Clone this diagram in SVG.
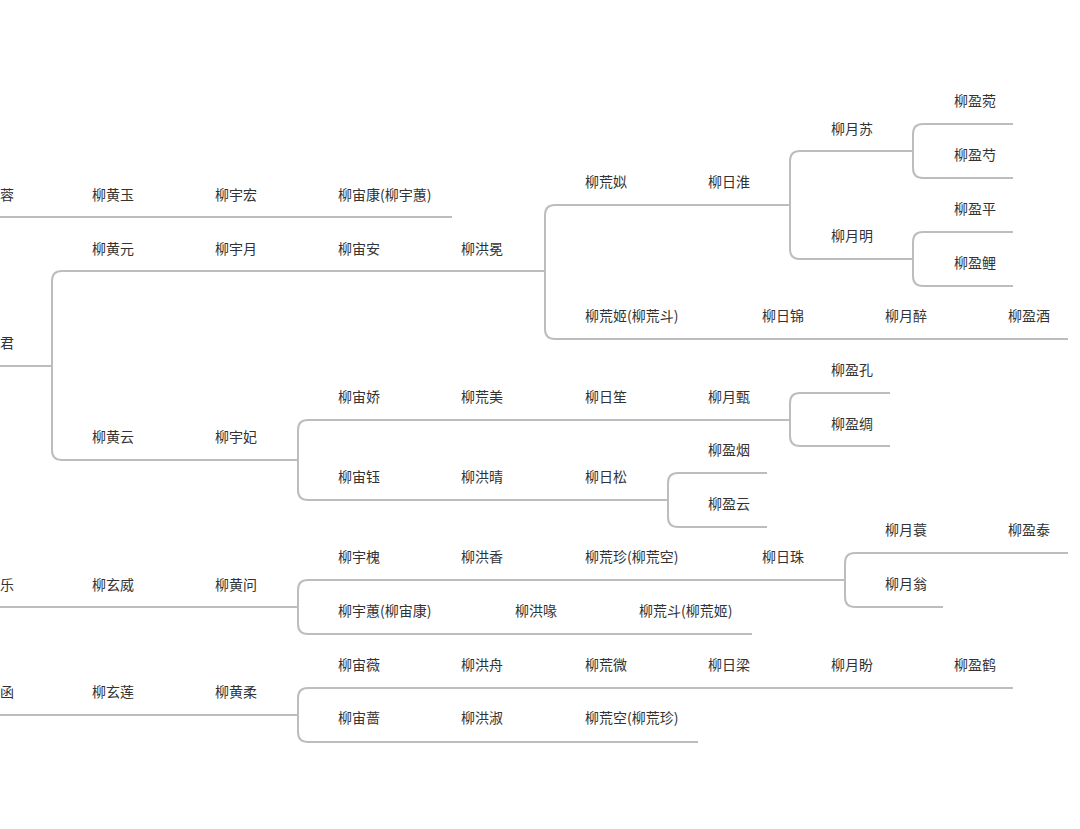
<svg xmlns="http://www.w3.org/2000/svg" width="1080" height="829" viewBox="0 0 1080 829">
<style>
text{font-family:"Noto Sans CJK SC","Liberation Sans",sans-serif;font-size:14px;fill:#333}
.c path{fill:none;stroke:#bdbdbd;stroke-width:2}
</style>
<rect width="1080" height="829" fill="#fff"/>
<g class="c" id="connectors">
<path d="M0 217H452"/>
<path d="M0 366H52"/>
<path d="M545 271H62Q52 271 52 281V450Q52 460 62 460H298"/>
<path d="M790 205H555Q545 205 545 215V329Q545 339 555 339H1068"/>
<path d="M913 151H800Q790 151 790 161V249Q790 259 800 259H913"/>
<path d="M1013 124H923Q913 124 913 134V168Q913 178 923 178H1013"/>
<path d="M1013 232H923Q913 232 913 242V276Q913 286 923 286H1013"/>
<path d="M790 420H308Q298 420 298 430V490Q298 500 308 500H668"/>
<path d="M890 393H800Q790 393 790 403V436Q790 446 800 446H890"/>
<path d="M767 473H678Q668 473 668 483V517Q668 527 678 527H767"/>
<path d="M0 607H298"/>
<path d="M845 580H308Q298 580 298 590V624Q298 634 308 634H752"/>
<path d="M1068 553H855Q845 553 845 563V597Q845 607 855 607H943"/>
<path d="M0 715H298"/>
<path d="M1013 688H308Q298 688 298 698V732Q298 742 308 742H698"/>
</g>
<g id="nodes">
<g id="n1"><text x="0" y="200">蓉</text><text x="92" y="200">柳黄玉</text><text x="215" y="200">柳宇宏</text><text x="338" y="200">柳宙康(柳宇蕙)</text></g>
<g id="n2"><text x="0" y="348">君</text></g>
<g id="n3"><text x="92" y="254">柳黄元</text><text x="215" y="254">柳宇月</text><text x="338" y="254">柳宙安</text><text x="461" y="254">柳洪冕</text></g>
<g id="n4"><text x="585" y="187">柳荒姒</text><text x="708" y="187">柳日淮</text></g>
<g id="n5"><text x="831" y="134">柳月苏</text></g>
<g id="n6"><text x="954" y="106">柳盈菀</text></g>
<g id="n7"><text x="954" y="160">柳盈芍</text></g>
<g id="n8"><text x="831" y="241">柳月明</text></g>
<g id="n9"><text x="954" y="214">柳盈平</text></g>
<g id="n10"><text x="954" y="268">柳盈鲤</text></g>
<g id="n11"><text x="585" y="321">柳荒姬(柳荒斗)</text><text x="762" y="321">柳日锦</text><text x="885" y="321">柳月醉</text><text x="1008" y="321">柳盈酒</text></g>
<g id="n12"><text x="92" y="442">柳黄云</text><text x="215" y="442">柳宇妃</text></g>
<g id="n13"><text x="338" y="402">柳宙娇</text><text x="461" y="402">柳荒美</text><text x="585" y="402">柳日笙</text><text x="708" y="402">柳月甄</text></g>
<g id="n14"><text x="831" y="375">柳盈孔</text></g>
<g id="n15"><text x="831" y="429">柳盈绸</text></g>
<g id="n16"><text x="338" y="482">柳宙钰</text><text x="461" y="482">柳洪晴</text><text x="585" y="482">柳日松</text></g>
<g id="n17"><text x="708" y="455">柳盈烟</text></g>
<g id="n18"><text x="708" y="509">柳盈云</text></g>
<g id="n19"><text x="0" y="590">乐</text><text x="92" y="590">柳玄威</text><text x="215" y="590">柳黄问</text></g>
<g id="n20"><text x="338" y="562">柳宇槐</text><text x="461" y="562">柳洪香</text><text x="585" y="562">柳荒珍(柳荒空)</text><text x="762" y="562">柳日珠</text></g>
<g id="n21"><text x="885" y="535">柳月蓑</text><text x="1008" y="535">柳盈泰</text></g>
<g id="n22"><text x="885" y="589">柳月翁</text></g>
<g id="n23"><text x="338" y="616">柳宇蕙(柳宙康)</text><text x="515" y="616">柳洪喙</text><text x="639" y="616">柳荒斗(柳荒姬)</text></g>
<g id="n24"><text x="0" y="697">函</text><text x="92" y="697">柳玄莲</text><text x="215" y="697">柳黄柔</text></g>
<g id="n25"><text x="338" y="670">柳宙薇</text><text x="461" y="670">柳洪舟</text><text x="585" y="670">柳荒微</text><text x="708" y="670">柳日梁</text><text x="831" y="670">柳月盼</text><text x="954" y="670">柳盈鹤</text></g>
<g id="n26"><text x="338" y="723">柳宙蔷</text><text x="461" y="723">柳洪淑</text><text x="585" y="723">柳荒空(柳荒珍)</text></g>
</g>
</svg>
